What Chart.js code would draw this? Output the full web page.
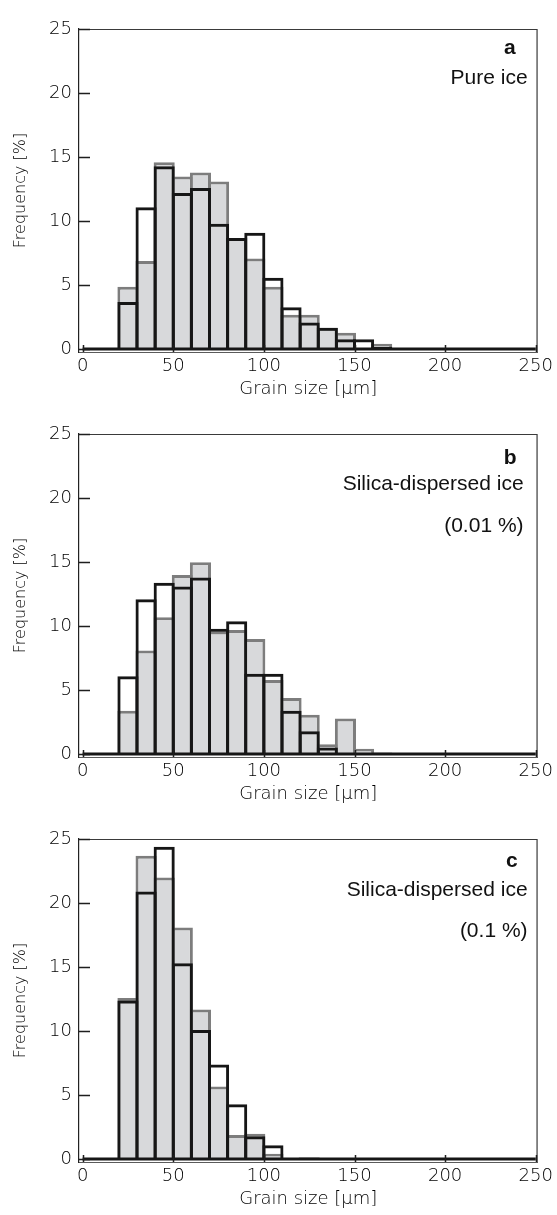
<!DOCTYPE html>
<html>
<head>
<meta charset="utf-8">
<script src="https://cdn.jsdelivr.net/npm/chart.js@4.4.1/dist/chart.umd.min.js"></script>
<style>
  html, body { margin: 0; padding: 0; background: #ffffff; }
  .panel { width: 557px; height: 405px; position: relative; }
  canvas { display: block; }
</style>
</head>
<body>
<div class="panel"><canvas id="ca" width="557" height="405"></canvas></div>
<div class="panel"><canvas id="cb" width="557" height="405"></canvas></div>
<div class="panel"><canvas id="cc" width="557" height="405"></canvas></div>
<script>
// ---- data (bin centres of 10 µm bins, frequency in %) ----
const binCenters = [5, 15, 25, 35, 45, 55, 65, 75, 85, 95, 105, 115, 125, 135, 145, 155, 165, 175, 185, 195, 205, 215, 225, 235, 245];
const xTickValues = [0, 50, 100, 150, 200, 250];
const yTickValues = [0, 5, 10, 15, 20, 25];

// panel a: pure ice
const grayA  = [0, 0, 4.9, 6.9, 14.6, 13.5, 13.8, 13.1, 8.7, 7.1, 4.9, 2.7, 2.7, 1.7, 1.3, 0, 0.45, 0, 0, 0, 0, 0, 0, 0, 0];
const blackA = [0, 0, 3.7, 11.1, 14.3, 12.2, 12.6, 9.8, 8.7, 9.1, 5.6, 3.3, 2.1, 1.7, 0.8, 0.8, 0.2, 0, 0, 0, 0, 0, 0, 0, 0];
// panel b: silica-dispersed ice (0.01 %)
const grayB  = [0, 0, 3.4, 8.1, 10.7, 14.0, 15.0, 9.6, 9.7, 9.0, 5.8, 4.4, 3.1, 0.8, 2.8, 0.45, 0.15, 0, 0, 0, 0, 0, 0, 0, 0];
const blackB = [0, 0, 6.1, 12.1, 13.4, 13.1, 13.8, 9.8, 10.4, 6.3, 6.3, 3.4, 1.8, 0.55, 0, 0, 0, 0, 0, 0, 0, 0, 0, 0, 0];
// panel c: silica-dispersed ice (0.1 %)
const grayC  = [0, 0, 12.6, 23.7, 22.0, 18.1, 11.7, 5.7, 1.9, 2.0, 0.45, 0.1, 0.1, 0, 0, 0, 0, 0, 0, 0, 0, 0, 0, 0, 0];
const blackC = [0, 0, 12.4, 20.9, 24.4, 15.3, 10.1, 7.4, 4.3, 1.8, 1.1, 0.05, 0.15, 0, 0, 0, 0, 0, 0, 0, 0, 0, 0, 0, 0];

const panelLetters = ['a', 'b', 'c'];
const panelNames = ['Pure ice', 'Silica-dispersed ice', 'Silica-dispersed ice'];
const panelConcs = ['', '(0.01 %)', '(0.1 %)'];

const xTitle = 'Grain size [\u03BCm]';
const yTitle = 'Frequency [%]';

// ---- styling ----
const TICK_FONT = { family: '"DejaVu Sans", sans-serif', size: 18, weight: '200' };
const TEXT_COLOR = '#000000';
const GRAY_FILL = '#d8d9db';
const GRAY_LINE = '#7d7d7d';
const BLACK_LINE = '#161616';

const decorPlugin = {
  id: 'decor',
  afterDatasetsDraw(chart) {
    const { ctx, scales } = chart;
    const x = scales.x, y = scales.y;
    ctx.save();
    // thick zero baseline of the histogram outline
    ctx.strokeStyle = BLACK_LINE;
    ctx.lineWidth = 3;
    ctx.beginPath();
    const y0 = y.getPixelForValue(0) - 0.5;
    ctx.moveTo(x.getPixelForValue(0), y0);
    ctx.lineTo(x.getPixelForValue(250), y0);
    ctx.stroke();
    ctx.restore();
  },
  afterDraw(chart, args, opts) {
    const { ctx, chartArea, scales } = chart;
    const x = scales.x, y = scales.y;
    ctx.save();
    // frame top and right
    ctx.strokeStyle = '#3a3a3a';
    ctx.lineWidth = 1.2;
    ctx.beginPath();
    ctx.moveTo(chartArea.left, chartArea.top + 0.5);
    ctx.lineTo(chartArea.right - 0.5, chartArea.top + 0.5);
    ctx.lineTo(chartArea.right - 0.5, chartArea.bottom);
    ctx.stroke();
    // inward tick marks
    ctx.strokeStyle = '#1e1e1e';
    ctx.lineWidth = 1.5;
    ctx.beginPath();
    y.ticks.forEach(t => {
      const py = Math.round(y.getPixelForValue(t.value)) + 0.5;
      ctx.moveTo(chartArea.left, py);
      ctx.lineTo(chartArea.left + 11, py);
    });
    x.ticks.forEach(t => {
      const px = Math.round(x.getPixelForValue(t.value)) + 0.5;
      ctx.moveTo(px, chartArea.bottom);
      ctx.lineTo(px, chartArea.bottom - 7);
    });
    ctx.stroke();
    // panel annotation
    ctx.fillStyle = '#111111';
    ctx.textAlign = 'right';
    ctx.textBaseline = 'middle';
    ctx.font = 'bold 21px "Liberation Sans", Arial, sans-serif';
    ctx.fillText(opts.letter, chartArea.right - opts.letterDx, chartArea.top + opts.letterDy);
    ctx.font = '21px "Liberation Sans", Arial, sans-serif';
    ctx.fillText(opts.name, chartArea.right - opts.textDx, chartArea.top + opts.nameDy);
    if (opts.conc) ctx.fillText(opts.conc, chartArea.right - opts.textDx, chartArea.top + opts.concDy);
    ctx.restore();
  }
};

const annotLayout = [
  { letterDx: 22, letterDy: 19, textDx: 10, nameDy: 49, concDy: 92 },
  { letterDx: 21, letterDy: 24, textDx: 14, nameDy: 50, concDy: 92 },
  { letterDx: 20, letterDy: 22, textDx: 10, nameDy: 51, concDy: 92 }
];

function toPoints(vals) {
  return binCenters.map((c, i) => ({ x: c, y: vals[i] }));
}

function makeChart(id, gray, black, k) {
  const lay = annotLayout[k];
  return new Chart(document.getElementById(id), {
    type: 'bar',
    data: {
      datasets: [
        {
          label: 'outline',
          data: toPoints(black),
          backgroundColor: 'rgba(0,0,0,0)',
          borderColor: BLACK_LINE,
          borderWidth: 3,
          borderSkipped: 'start',
          inflateAmount: 0,
          barPercentage: 1.165,
          categoryPercentage: 1,
          grouped: false,
          order: 0
        },
        {
          label: 'filled',
          data: toPoints(gray),
          backgroundColor: GRAY_FILL,
          borderColor: GRAY_LINE,
          borderWidth: 3,
          borderSkipped: 'start',
          inflateAmount: 0,
          barPercentage: 1.165,
          categoryPercentage: 1,
          grouped: false,
          order: 1
        }
      ]
    },
    options: {
      responsive: false,
      animation: false,
      devicePixelRatio: 1,
      layout: { padding: { top: 29, right: 18, left: 0, bottom: 0 } },
      plugins: {
        legend: { display: false },
        tooltip: { enabled: false },
        decor: Object.assign({ letter: panelLetters[k], name: panelNames[k], conc: panelConcs[k] }, lay)
      },
      scales: {
        x: {
          type: 'linear',
          min: -2,
          max: 251,
          offset: false,
          afterBuildTicks: s => { s.ticks = xTickValues.map(v => ({ value: v })); },
          afterFit: s => { s.height = 53; },
          grid: { display: false, drawTicks: false },
          border: { display: true, color: '#5a5a5a', width: 1 },
          ticks: { color: TEXT_COLOR, font: TICK_FONT, padding: 4, maxRotation: 0 },
          title: { display: true, text: xTitle, color: TEXT_COLOR, font: { family: '"DejaVu Sans", sans-serif', size: 18, weight: '200' }, padding: { top: 0, bottom: 5 } }
        },
        y: {
          min: -0.2,
          max: 25,
          afterBuildTicks: s => { s.ticks = yTickValues.map(v => ({ value: v })); },
          afterFit: s => { s.width = 79; },
          grid: { display: false, drawTicks: false },
          border: { display: true, color: '#222222', width: 1.2 },
          ticks: { color: TEXT_COLOR, font: TICK_FONT, padding: 7 },
          title: { display: true, text: yTitle, color: TEXT_COLOR, font: { family: '"DejaVu Sans", sans-serif', size: 16, weight: '200' }, padding: { top: 11, bottom: 0 } }
        }
      }
    },
    plugins: [decorPlugin]
  });
}

makeChart('ca', grayA, blackA, 0);
makeChart('cb', grayB, blackB, 1);
makeChart('cc', grayC, blackC, 2);
</script>
</body>
</html>
